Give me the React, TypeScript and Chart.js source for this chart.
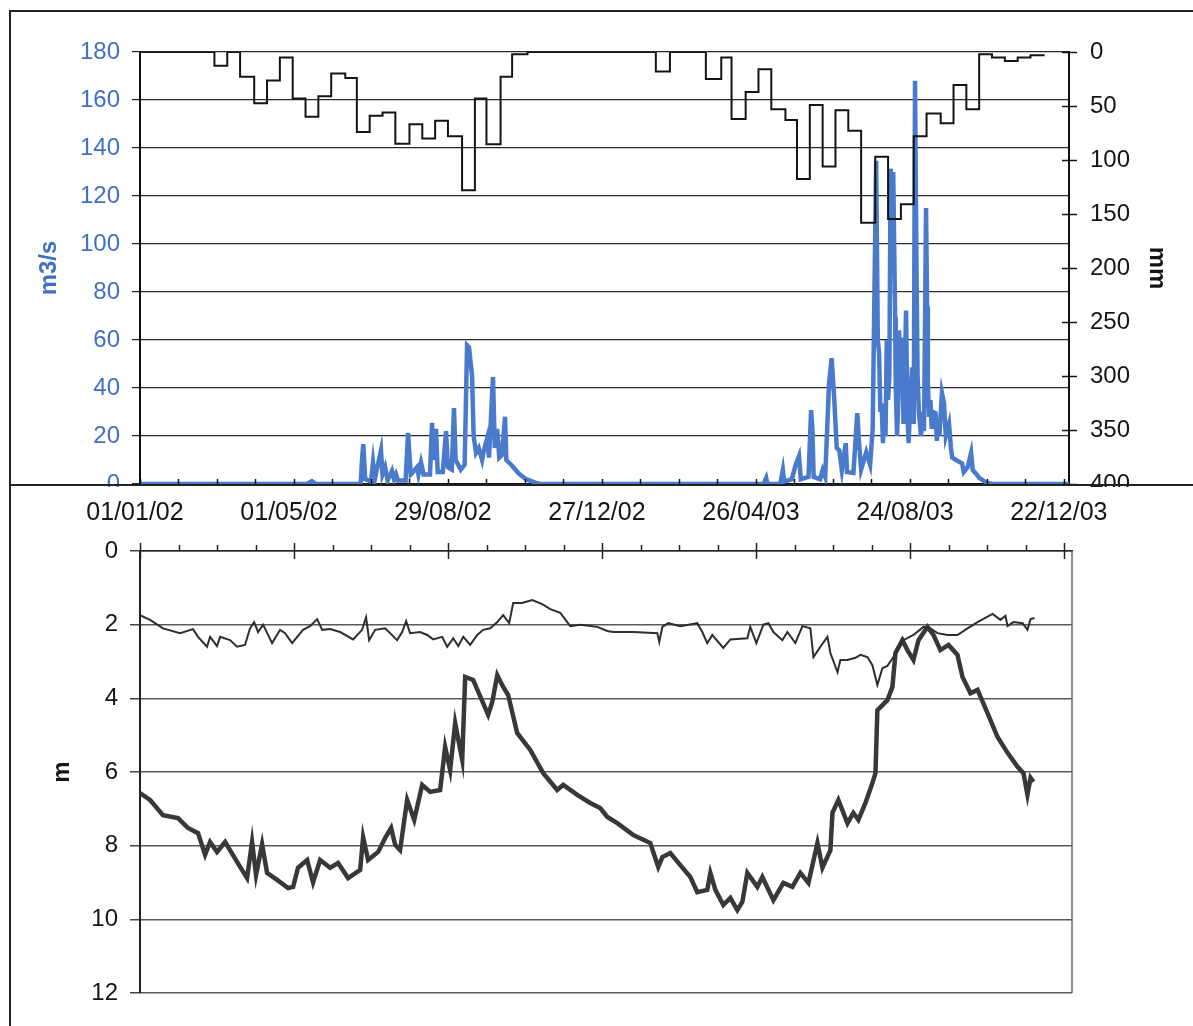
import React, { useEffect, useRef } from 'react';
import { Chart, registerables } from 'chart.js';

Chart.register(...registerables);

const FONT = "'Liberation Sans', Arial, sans-serif";
const BLUE_LINE = '#4a7acc';
const BLUE_TEXT = '#3f70c4';

// ---- shared x axis (days since 01/01/02) ----
const xTickDays = [0, 30, 60, 90, 120, 150, 180, 210, 240, 270, 300, 330, 360, 390, 420, 450, 480, 510, 540, 570, 600, 630, 660, 690, 720];
const xLabelDays = [0, 120, 240, 360, 480, 600, 720];
const xLabels = ['01/01/02', '01/05/02', '29/08/02', '27/12/02', '26/04/03', '24/08/03', '22/12/03'];

// ---- top chart: discharge (m3/s) ----
const flowDays = [0, 130, 134, 137, 172, 173, 174, 175.5, 180, 181.6, 183, 187.8, 189, 191, 193, 196.4, 198, 199.5, 201, 207, 208.9, 211, 215.9, 217, 219, 221, 226, 227.6, 229, 230.7, 232, 236, 238.5, 240, 243, 244.7, 246, 250, 253, 254.9, 256.4, 258.8, 260, 261.9, 264, 266.6, 268, 270.5, 272, 275.1, 276.5, 278.3, 280, 282, 284.5, 285.5, 290, 295.4, 300.9, 308.6, 312, 486, 488, 489, 499, 501, 502, 508, 511, 513.6, 515, 521, 523, 524, 525, 530, 532, 534, 537, 539, 541, 543, 545, 547, 550, 551, 556, 559, 560, 562, 566, 569, 571, 573.7, 575, 576, 577, 578, 579, 580, 581, 582, 583, 584, 585, 586, 587, 588.5, 589, 590, 591, 591.6, 592.5, 594, 595, 596, 597, 598, 599, 600, 601.7, 603, 604, 605, 606, 607, 608.7, 610, 611, 612.6, 613.4, 614, 615, 616, 617, 618, 620, 621, 622, 623, 625, 626.6, 628, 630.5, 632, 633, 636, 640.7, 642, 645, 647.7, 649, 652, 654, 657, 660, 664, 724];
const flowValues = [0, 0, 1.2, 0, 0, 10, 16.6, 2, 1, 8.9, 2, 14, 4, 7, 1.5, 5.5, 2, 4, 1.5, 1.5, 21.3, 4, 7, 4, 9, 4, 4, 25.5, 10, 23, 5, 5, 22, 7, 6, 31.6, 10, 6, 8, 57.8, 57, 45, 20, 13, 15, 10, 14, 19, 11, 44.6, 15, 23, 11, 12, 28, 10, 7.6, 4.2, 2, 0.5, 0, 0, 2.5, 0, 0, 5.8, 1, 2, 8, 11.6, 2, 3, 30.8, 23, 3, 2, 5.8, 3, 42, 52.4, 36, 15, 14, 5.8, 17, 5, 4.6, 29.5, 20, 6, 13.3, 8, 23, 134.7, 60, 54.4, 30, 33.6, 17, 28, 20, 60, 35, 45, 131.4, 100, 130, 69.4, 40, 20, 35, 64, 40, 61, 25, 45, 72.3, 30, 17, 30, 48.6, 25, 168, 98.5, 45, 30, 20, 30, 22, 115, 74, 42, 28, 35, 23, 30, 29.5, 18, 25, 20, 37.8, 33.6, 20, 25, 15, 11, 10, 8.6, 5, 7, 13, 5.8, 4, 2.6, 1.5, 0.5, 0, 0];

// ---- top chart: dekadal rainfall (mm, right axis, reversed) ----
const rainDays = [0, 58, 68, 78, 89, 99, 109, 119, 129, 139, 149, 160, 169, 179, 189, 199, 210, 220, 230, 240, 251, 261, 270, 281, 290, 302, 402, 413, 441, 453, 461, 472, 482, 492, 503, 512, 522, 532, 542, 552, 562, 573, 583, 593, 603, 613, 624, 634, 644, 654, 664, 674, 684, 694, 705];
const rainValues = [0, 12.7, 0, 23, 47.5, 26.5, 5, 43, 60, 41, 20, 24, 74, 59, 56, 85, 67, 80, 63.6, 78, 128, 43, 85.5, 23, 2, 0, 18, 0, 25, 5, 62, 37, 16, 53, 63, 117.6, 49, 106, 54, 73, 158, 97, 154.6, 141, 78, 57, 66, 30.5, 53, 2, 5, 8.3, 5, 3, 3];

// ---- bottom chart: water levels (m below surface) ----
const shallowDays = [0, 7.8, 17.9, 31.2, 41.3, 45.2, 52.2, 54.6, 60, 62.4, 70.1, 75.6, 81.8, 85.7, 88.9, 92, 95.9, 102.9, 109.1, 113, 118.5, 127, 132.5, 138, 141.9, 148.1, 155.9, 166, 173, 176.1, 178.5, 183.2, 191, 200.3, 204.2, 207.3, 210.4, 218.2, 223.7, 228.4, 235.4, 239.3, 244, 247.9, 251.8, 257.2, 262.7, 267.3, 272.8, 278.3, 282.9, 287.6, 290.7, 297.7, 305.5, 313.3, 319.6, 327.4, 335.2, 342.9, 356.2, 364, 368.7, 384.3, 403, 404.5, 406.9, 411.5, 420.9, 434.1, 438, 441.9, 445.8, 454.4, 459.9, 473.1, 475.4, 480.1, 485.6, 489.5, 493.4, 500.4, 504.3, 510.5, 516, 522.2, 524.6, 530, 535.5, 537.8, 543.3, 545.6, 551.1, 557.3, 561.2, 566.6, 570.5, 574.4, 578.3, 582.2, 586.9, 594.7, 602.5, 610.3, 615.7, 621.2, 629, 636.8, 644.6, 652.4, 664.1, 670.3, 674.2, 675.8, 680.4, 687.5, 691.3, 693.7, 696.8];
const shallowLevels = [1.74, 1.87, 2.1, 2.23, 2.12, 2.33, 2.6, 2.33, 2.58, 2.33, 2.42, 2.6, 2.55, 2.1, 1.93, 2.2, 2.0, 2.5, 2.14, 2.23, 2.5, 2.14, 2.04, 1.85, 2.14, 2.12, 2.2, 2.4, 2.14, 1.8, 2.42, 2.14, 2.1, 2.42, 2.2, 1.9, 2.23, 2.2, 2.28, 2.4, 2.33, 2.6, 2.37, 2.58, 2.33, 2.55, 2.28, 2.14, 2.1, 1.93, 1.74, 1.96, 1.41, 1.41, 1.33, 1.44, 1.58, 1.68, 2.04, 2.0, 2.06, 2.17, 2.2, 2.2, 2.23, 2.47, 2.06, 1.96, 2.04, 1.96, 2.2, 2.5, 2.28, 2.63, 2.4, 2.37, 2.06, 2.5, 2.0, 1.96, 2.2, 2.42, 2.2, 2.5, 2.04, 2.1, 2.88, 2.6, 2.33, 2.77, 3.29, 2.96, 2.96, 2.9, 2.82, 2.88, 3.1, 3.64, 3.18, 3.12, 2.88, 2.42, 2.28, 2.06, 2.1, 2.23, 2.28, 2.28, 2.1, 1.93, 1.71, 1.87, 1.76, 2.04, 1.93, 1.96, 2.14, 1.85, 1.82];
const deepDays = [0, 7.8, 17.9, 29.6, 37.4, 45.2, 50.7, 54.6, 60, 66.3, 75.6, 83.4, 87.3, 90.4, 95.1, 99, 106.8, 115.4, 119.3, 123.1, 130.2, 134.8, 140.3, 148.1, 154.3, 162.1, 171.5, 173.8, 177.7, 185.5, 191, 195.6, 198.8, 202.6, 208.1, 213.6, 219.8, 226, 233.8, 237.7, 241.6, 245.5, 251, 253.3, 259.5, 267.3, 271.2, 274.4, 278.3, 282.9, 286.8, 293.8, 304, 314.1, 325, 329.7, 340.6, 350.7, 358.5, 364, 371.8, 384.3, 397.5, 403.7, 406.9, 413.1, 420.9, 428.7, 434.1, 441.9, 444.3, 448.2, 454.4, 459.9, 465.3, 469.2, 473.1, 480.9, 484.8, 493.4, 501.2, 508.2, 514.4, 520.7, 527.7, 531.6, 537.8, 539.4, 544, 551.1, 555.7, 559.6, 565.1, 570.5, 572.9, 574.4, 582.2, 586.1, 588.5, 593.9, 597.8, 602.5, 606.4, 613.4, 618.1, 623.5, 629.8, 636.8, 640.7, 646.9, 652.4, 660.2, 668, 675.8, 683.6, 688.2, 691.3, 693.7, 696];
const deepLevels = [6.57, 6.76, 7.17, 7.25, 7.52, 7.66, 8.25, 7.9, 8.17, 7.9, 8.44, 8.88, 7.9, 8.8, 7.96, 8.74, 8.93, 9.15, 9.12, 8.6, 8.39, 9.0, 8.39, 8.6, 8.47, 8.88, 8.66, 7.77, 8.39, 8.17, 7.79, 7.52, 7.98, 8.12, 6.76, 7.3, 6.35, 6.54, 6.49, 5.32, 5.95, 4.67, 5.67, 3.42, 3.5, 4.13, 4.45, 4.1, 3.37, 3.69, 3.91, 4.94, 5.4, 6.03, 6.49, 6.35, 6.62, 6.84, 6.98, 7.22, 7.39, 7.71, 7.93, 8.58, 8.31, 8.2, 8.53, 8.85, 9.26, 9.2, 8.74, 9.2, 9.61, 9.42, 9.75, 9.53, 8.74, 9.12, 8.85, 9.48, 9.01, 9.12, 8.74, 9.01, 7.93, 8.6, 8.12, 7.11, 6.76, 7.39, 7.11, 7.3, 6.84, 6.3, 6.03, 4.32, 4.05, 3.69, 2.77, 2.42, 2.69, 2.96, 2.42, 2.06, 2.28, 2.69, 2.55, 2.82, 3.42, 3.86, 3.77, 4.4, 5.05, 5.48, 5.86, 6.03, 6.62, 6.16, 6.27];

const toPoints = (xs: number[], ys: number[]) => xs.map((x, i) => ({ x, y: ys[i] }));

const topDecor = {
  id: 'topDecor',
  afterDraw(chart: any) {
    const { ctx, chartArea, scales } = chart;
    const { right, bottom } = chartArea;
    ctx.save();
    ctx.strokeStyle = '#111';
    ctx.lineWidth = 1.5;
    xTickDays.forEach((d) => {
      const px = Math.round(scales.x.getPixelForValue(d)) + 0.5;
      ctx.beginPath();
      ctx.moveTo(px, bottom);
      ctx.lineTo(px, bottom - 5);
      ctx.stroke();
    });
    scales.y2.ticks.forEach((t: any) => {
      const py = Math.round(scales.y2.getPixelForValue(t.value)) + 0.5;
      ctx.beginPath();
      ctx.moveTo(right - 7, py);
      ctx.lineTo(right + 8, py);
      ctx.stroke();
    });
    // lower part of the sheet (second scan) hides the bottom of the "0" and "400" labels
    ctx.fillStyle = '#ffffff';
    ctx.fillRect(92, 487, 40, 11);
    ctx.fillRect(1082, 487, 70, 11);
    ctx.restore();
  },
};

const bottomDecor = {
  id: 'bottomDecor',
  afterDraw(chart: any) {
    const { ctx, chartArea, scales } = chart;
    const { top, bottom, right } = chartArea;
    ctx.save();
    ctx.strokeStyle = '#6a6a6a';
    ctx.lineWidth = 1.5;
    ctx.beginPath();
    ctx.moveTo(right, top);
    ctx.lineTo(right, bottom);
    ctx.stroke();
    ctx.strokeStyle = '#222';
    ctx.lineWidth = 1.5;
    xTickDays.forEach((d) => {
      const px = Math.round(scales.x.getPixelForValue(d)) + 0.5;
      const major = xLabelDays.indexOf(d) >= 0;
      ctx.beginPath();
      ctx.moveTo(px, top - (major ? 8 : 6));
      ctx.lineTo(px, top + (major ? 8 : 0));
      ctx.stroke();
    });
    ctx.restore();
  },
};

function TopChart() {
  const ref = useRef<HTMLCanvasElement>(null);
  useEffect(() => {
    const chart = new Chart(ref.current as HTMLCanvasElement, {
      type: 'line',
      data: {
        datasets: [
          {
            label: 'mm',
            data: toPoints(rainDays, rainValues),
            yAxisID: 'y2',
            stepped: true,
            borderColor: '#141414',
            borderWidth: 2,
            pointRadius: 0,
            fill: false,
            order: 0,
          } as any,
          {
            label: 'm3/s',
            data: toPoints(flowDays, flowValues),
            yAxisID: 'y',
            borderColor: BLUE_LINE,
            borderWidth: 4.5,
            pointRadius: 0,
            tension: 0,
            fill: false,
            order: 1,
          } as any,
        ],
      },
      options: {
        animation: false,
        responsive: false,
        maintainAspectRatio: false,
        layout: { padding: { top: 52, left: 0, right: 0, bottom: 0 } },
        plugins: { legend: { display: false }, tooltip: { enabled: false } },
        scales: {
          x: {
            type: 'linear',
            min: 0,
            max: 724,
            afterBuildTicks: (s: any) => {
              s.ticks = xTickDays.map((v) => ({ value: v }));
            },
            afterFit: (s: any) => {
              s.height = 46;
            },
            grid: { display: false, drawTicks: false },
            border: { display: true, color: '#111', width: 2 },
            ticks: {
              autoSkip: false,
              maxRotation: 0,
              minRotation: 0,
              padding: 14,
              labelOffset: -5,
              color: '#151515',
              font: { family: FONT, size: 25 },
              callback: (v: any) => {
                const i = xLabelDays.indexOf(Math.round(Number(v)));
                return i >= 0 ? xLabels[i] : '';
              },
            },
          },
          y: {
            position: 'left',
            min: 0,
            max: 180,
            afterFit: (s: any) => {
              s.width = 140;
            },
            ticks: { stepSize: 20, color: BLUE_TEXT, padding: 12, font: { family: FONT, size: 24 } },
            grid: { color: '#2a2a2a', lineWidth: 1.2, tickLength: 8, tickColor: '#222' },
            border: { display: true, color: '#111', width: 2 },
            title: {
              display: true,
              text: 'm3/s',
              color: BLUE_TEXT,
              font: { family: FONT, size: 24, weight: 'bold' },
              padding: { top: 35, bottom: 0 },
            },
          },
          y2: {
            position: 'right',
            min: 0,
            max: 400,
            reverse: true,
            afterFit: (s: any) => {
              s.width = 124;
            },
            ticks: { stepSize: 50, color: '#151515', padding: 21, font: { family: FONT, size: 24 } },
            grid: { display: false, drawTicks: false },
            border: { display: true, color: '#111', width: 2 },
            title: {
              display: true,
              text: 'mm',
              color: '#151515',
              font: { family: FONT, size: 24, weight: 'bold' },
              padding: { top: 22, bottom: 0 },
            },
          },
        },
      } as any,
      plugins: [topDecor],
    });
    return () => chart.destroy();
  }, []);
  return (
    <canvas
      ref={ref}
      width={1193}
      height={530}
      style={{ position: 'absolute', left: 0, top: 0, width: 1193, height: 530, display: 'block' }}
    />
  );
}

function BottomChart() {
  const ref = useRef<HTMLCanvasElement>(null);
  useEffect(() => {
    const chart = new Chart(ref.current as HTMLCanvasElement, {
      type: 'line',
      data: {
        datasets: [
          {
            label: 'shallow',
            data: toPoints(shallowDays, shallowLevels),
            borderColor: '#2e2e2e',
            borderWidth: 2,
            pointRadius: 0,
            tension: 0,
            fill: false,
          },
          {
            label: 'deep',
            data: toPoints(deepDays, deepLevels),
            borderColor: '#383838',
            borderWidth: 4.5,
            pointRadius: 0,
            tension: 0,
            fill: false,
          },
        ],
      },
      options: {
        animation: false,
        responsive: false,
        maintainAspectRatio: false,
        layout: { padding: { top: 0, left: 0, right: 121, bottom: 33 } },
        plugins: { legend: { display: false }, tooltip: { enabled: false } },
        scales: {
          x: {
            type: 'linear',
            position: 'top',
            min: 0,
            max: 726,
            afterBuildTicks: (s: any) => {
              s.ticks = xTickDays.map((v) => ({ value: v }));
            },
            afterFit: (s: any) => {
              s.height = 30;
            },
            grid: { display: false, drawTicks: false },
            border: { display: true, color: '#222', width: 1.5 },
            ticks: { display: false },
          },
          y: {
            position: 'left',
            min: 0,
            max: 12,
            reverse: true,
            afterFit: (s: any) => {
              s.width = 140;
            },
            ticks: { stepSize: 2, color: '#151515', padding: 12, font: { family: FONT, size: 24 } },
            grid: { color: '#5a5a5a', lineWidth: 1.5, tickLength: 10, tickColor: '#444' },
            border: { display: true, color: '#222', width: 2 },
            title: {
              display: true,
              text: 'm',
              color: '#151515',
              font: { family: FONT, size: 24, weight: 'bold' },
              padding: { top: 48, bottom: 0 },
            },
          },
        },
      } as any,
      plugins: [bottomDecor],
    });
    return () => chart.destroy();
  }, []);
  return (
    <canvas
      ref={ref}
      width={1193}
      height={505}
      style={{ position: 'absolute', left: 0, top: 521, width: 1193, height: 505, display: 'block' }}
    />
  );
}

export default function App() {
  return (
    <div
      style={{
        position: 'absolute',
        left: 0,
        top: 0,
        width: 1193,
        height: 1026,
        background: '#ffffff',
        overflow: 'hidden',
      }}
    >
      <TopChart />
      <BottomChart />
      <div style={{ position: 'absolute', left: 9, top: 10, width: 1184, height: 0, borderTop: '2px solid #222' }} />
      <div style={{ position: 'absolute', left: 9, top: 10, width: 0, height: 1016, borderLeft: '2px solid #222' }} />
      <div style={{ position: 'absolute', left: 9, top: 484, width: 1184, height: 0, borderTop: '2px solid #222' }} />
    </div>
  );
}
